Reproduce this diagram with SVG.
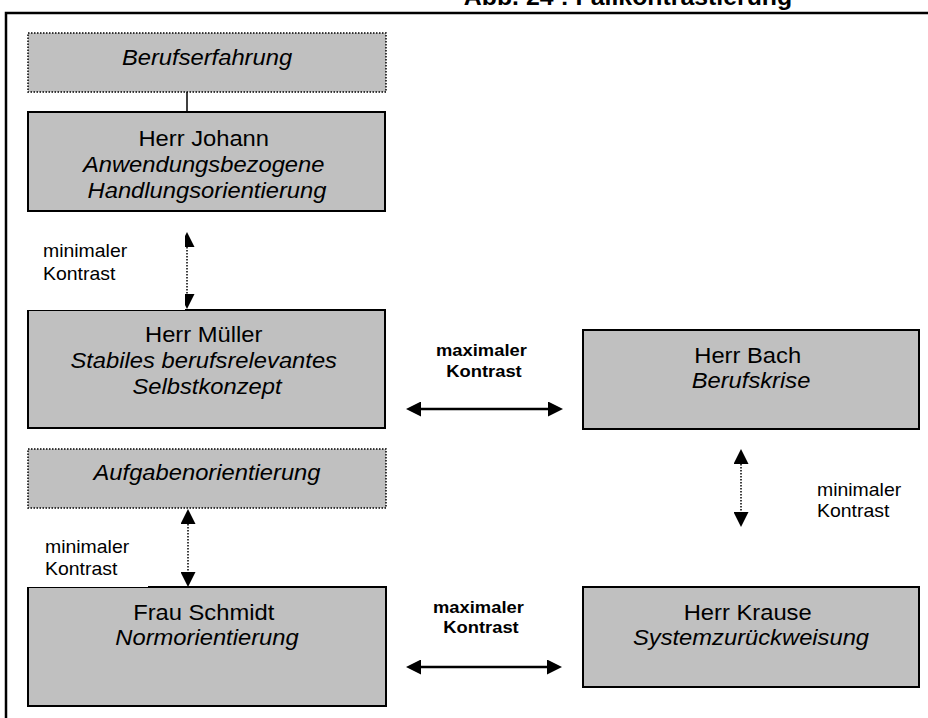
<svg xmlns="http://www.w3.org/2000/svg" width="928" height="718" viewBox="0 0 928 718">
  <style>
    text { font-family: "Liberation Sans", Arial, Helvetica, sans-serif; fill: #000; }
    .title { font-size: 23px; font-weight: bold; text-anchor: middle; }
    .name { font-size: 22px; text-anchor: middle; }
    .it { font-style: italic; }
    .lbl { font-size: 18px; }
    .lblb { font-size: 17px; font-weight: bold; text-anchor: middle; }
    .box { fill: #c0c0c0; stroke: #000; stroke-width: 2; }
    .dbox { fill: #c0c0c0; stroke: #000; stroke-width: 1.5; stroke-dasharray: 1.5 1.5; }
    .frame { fill: none; stroke: #000; stroke-width: 2.5; }
    .bg { fill: #fff; }
    .link { fill: none; stroke: #000; stroke-width: 1.5; }
    .dot { fill: none; stroke: #000; stroke-width: 1.5; stroke-dasharray: 1.5 1.5; marker-start: url(#head); marker-end: url(#head); }
    .solid { fill: none; stroke: #000; stroke-width: 2.5; marker-start: url(#head); marker-end: url(#head); }
  </style>
  <defs>
    <marker id="head" viewBox="0 0 15 15" refX="0" refY="7.5" markerWidth="15" markerHeight="15" markerUnits="userSpaceOnUse" orient="auto-start-reverse">
      <path d="M0,0 L15,7.5 L0,15 Z" fill="#000"/>
    </marker>
  </defs>

  <rect width="928" height="718" fill="#fff"/>

  <!-- heading, cut by the top edge -->
  <text class="title" transform="translate(628 5) scale(1.08 1)">Abb. 24 : Fallkontrastierung</text>

  <!-- outer frame -->
  <path class="frame" d="M6,718 V13 H928"/>

  <!-- connectors -->
  <g id="connectors">
    <line class="link" x1="187" y1="92" x2="187" y2="112"/>
    <line class="dot" x1="187" y1="247" x2="187" y2="294"/>
    <line class="dot" x1="188" y1="524" x2="188" y2="572"/>
    <line class="dot" x1="741" y1="464" x2="741" y2="512"/>
    <line class="solid" x1="421" y1="409" x2="548" y2="409"/>
    <line class="solid" x1="421" y1="667" x2="547" y2="667"/>
  </g>

  <g id="berufserfahrung">
    <rect class="dbox" x="28" y="33" width="358" height="59"/>
    <text class="name it" transform="translate(207 65) scale(1.08 1)">Berufserfahrung</text>
  </g>

  <g id="johann">
    <rect class="box" x="28" y="112" width="357" height="99"/>
    <text class="name" transform="translate(207 146) scale(1.08 1)">
      <tspan x="0" y="0">Herr Johann</tspan>
      <tspan class="it" x="0" y="26">Anwendungsbezogene</tspan>
      <tspan class="it" x="0" y="52">Handlungsorientierung</tspan>
    </text>
  </g>

  <g id="mueller">
    <rect class="box" x="28" y="310" width="357" height="118"/>
    <text class="name" transform="translate(207 342) scale(1.08 1)">
      <tspan x="0" y="0">Herr Müller</tspan>
      <tspan class="it" x="0" y="26">Stabiles berufsrelevantes</tspan>
      <tspan class="it" x="0" y="52">Selbstkonzept</tspan>
    </text>
  </g>

  <g id="aufgabenorientierung">
    <rect class="dbox" x="28" y="449" width="358" height="59"/>
    <text class="name it" transform="translate(207 480) scale(1.08 1)">Aufgabenorientierung</text>
  </g>

  <g id="schmidt">
    <rect class="box" x="28" y="587" width="358" height="119"/>
    <text class="name" transform="translate(207 620) scale(1.08 1)">
      <tspan x="0" y="0">Frau Schmidt</tspan>
      <tspan class="it" x="0" y="25">Normorientierung</tspan>
    </text>
  </g>

  <g id="bach">
    <rect class="box" x="583" y="330" width="336" height="99"/>
    <text class="name" transform="translate(751 363) scale(1.08 1)">
      <tspan x="0" y="0">Herr Bach</tspan>
      <tspan class="it" x="0" y="25">Berufskrise</tspan>
    </text>
  </g>

  <g id="krause">
    <rect class="box" x="583" y="587" width="336" height="100"/>
    <text class="name" transform="translate(751 620) scale(1.08 1)">
      <tspan x="0" y="0">Herr Krause</tspan>
      <tspan class="it" x="0" y="25">Systemzurückweisung</tspan>
    </text>
  </g>

  <!-- connector labels -->
  <g id="label-min-1">
    <rect class="bg" x="26" y="236" width="159" height="74"/>
    <text class="lbl" transform="translate(43 257) scale(1.08 1)">
      <tspan x="0" y="0">minimaler</tspan>
      <tspan x="0" y="23">Kontrast</tspan>
    </text>
  </g>
  <g id="label-min-2">
    <rect class="bg" x="26" y="530" width="122" height="57"/>
    <text class="lbl" transform="translate(45 553) scale(1.08 1)">
      <tspan x="0" y="0">minimaler</tspan>
      <tspan x="0" y="22">Kontrast</tspan>
    </text>
  </g>
  <g id="label-min-3">
    <text class="lbl" transform="translate(817 496) scale(1.08 1)">
      <tspan x="0" y="0">minimaler</tspan>
      <tspan x="0" y="21">Kontrast</tspan>
    </text>
  </g>
  <g id="label-max-1">
    <text class="lblb" transform="translate(484 356) scale(1.08 1)">
      <tspan x="0" y="0">maximaler</tspan>
      <tspan x="0" y="21">Kontrast</tspan>
    </text>
  </g>
  <g id="label-max-2">
    <text class="lblb" transform="translate(481 613) scale(1.08 1)">
      <tspan x="0" y="0">maximaler</tspan>
      <tspan x="0" y="20">Kontrast</tspan>
    </text>
  </g>
</svg>
